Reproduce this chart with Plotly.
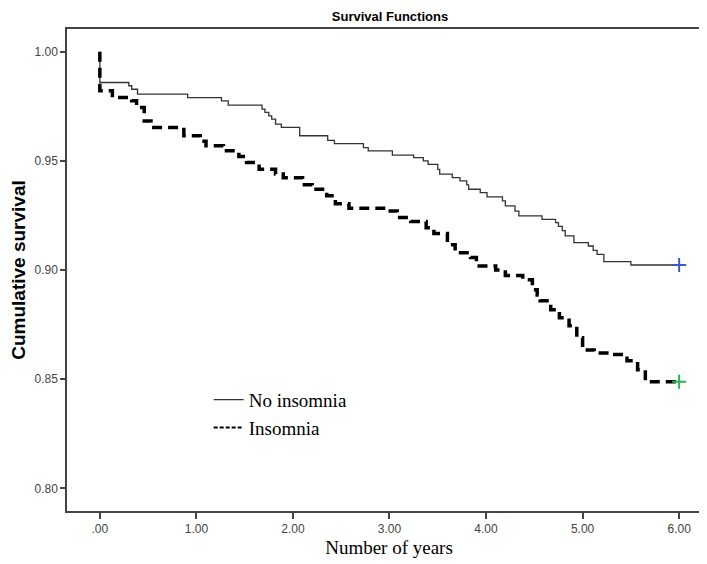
import plotly.graph_objects as go

# ---- data ----
no_insomnia_years = [0.00, 0.00, 0.30, 0.33, 0.39, 0.91, 1.26, 1.33, 1.68, 1.71, 1.75, 1.78,
                     1.82, 1.88, 2.07, 2.36, 2.43, 2.73, 2.78, 3.03, 3.25, 3.35, 3.40, 3.50,
                     3.52, 3.65, 3.73, 3.80, 3.82, 3.94, 4.01, 4.17, 4.20, 4.30, 4.34, 4.58,
                     4.72, 4.75, 4.79, 4.82, 4.91, 5.06, 5.11, 5.15, 5.22, 5.50, 6.00]
no_insomnia_surv = [1.0000, 0.9859, 0.9844, 0.9828, 0.9806, 0.9790, 0.9775, 0.9755, 0.9737,
                    0.9722, 0.9706, 0.9691, 0.9668, 0.9653, 0.9615, 0.9594, 0.9579, 0.9561,
                    0.9546, 0.9526, 0.9515, 0.9500, 0.9484, 0.9461, 0.9439, 0.9423, 0.9408,
                    0.9390, 0.9370, 0.9354, 0.9335, 0.9317, 0.9294, 0.9270, 0.9248, 0.9232,
                    0.9217, 0.9200, 0.9180, 0.9156, 0.9125, 0.9110, 0.9090, 0.9072, 0.9038,
                    0.9023, 0.9023]

insomnia_years = [0.00, 0.00, 0.13, 0.33, 0.38, 0.46, 0.53, 0.87, 1.04, 1.10, 1.28, 1.44,
                  1.52, 1.65, 1.82, 1.90, 2.10, 2.20, 2.35, 2.44, 2.58, 2.98, 3.08, 3.22,
                  3.38, 3.46, 3.60, 3.68, 3.84, 3.90, 4.10, 4.20, 4.38, 4.48, 4.53, 4.56,
                  4.67, 4.76, 4.86, 4.94, 5.00, 5.12, 5.30, 5.46, 5.57, 5.65, 6.00]
insomnia_surv = [1.0000, 0.9821, 0.9790, 0.9775, 0.9744, 0.9683, 0.9653, 0.9615, 0.9590,
                 0.9569, 0.9546, 0.9520, 0.9492, 0.9461, 0.9440, 0.9423, 0.9390, 0.9370,
                 0.9340, 0.9304, 0.9283, 0.9270, 0.9240, 0.9222, 0.9194, 0.9167, 0.9116,
                 0.9079, 0.9057, 0.9018, 0.9000, 0.8975, 0.8955, 0.8910, 0.8886, 0.8859,
                 0.8818, 0.8781, 0.8745, 0.8690, 0.8634, 0.8620, 0.8613, 0.8584, 0.8543,
                 0.8488, 0.8488]

censor_years = [6.00]
no_insomnia_censor = [0.9023]
insomnia_censor = [0.8488]

x_tick_vals = [0, 1, 2, 3, 4, 5, 6]
x_tick_text = [".00", "1.00", "2.00", "3.00", "4.00", "5.00", "6.00"]
y_tick_vals = [0.80, 0.85, 0.90, 0.95, 1.00]
y_tick_text = ["0.80", "0.85", "0.90", "0.95", "1.00"]

fig = go.Figure()
fig.add_trace(go.Scatter(x=no_insomnia_years, y=no_insomnia_surv, mode="lines",
                         line=dict(shape="hv", color="#333333", width=1.3),
                         name="No insomnia", legendgroup="no"))
fig.add_trace(go.Scatter(x=insomnia_years, y=insomnia_surv, mode="lines",
                         line=dict(shape="hv", color="#000000", width=3.5, dash="10px,6px"),
                         name="Insomnia", legendgroup="ins", showlegend=False))
# legend entry for the insomnia curve, drawn with the finer dash seen in the reference key
fig.add_trace(go.Scatter(x=[None], y=[None], mode="lines",
                         line=dict(color="#000000", width=2, dash="4px,2px"),
                         name="Insomnia", legendgroup="ins", hoverinfo="skip"))
fig.add_trace(go.Scatter(x=censor_years, y=no_insomnia_censor, mode="markers",
                         marker=dict(symbol="cross-thin", size=10,
                                     line=dict(color="#3b5cc4", width=2)),
                         legendgroup="no", showlegend=False, hoverinfo="skip"))
fig.add_trace(go.Scatter(x=censor_years, y=insomnia_censor, mode="markers",
                         marker=dict(symbol="cross-thin", size=10,
                                     line=dict(color="#2bb24c", width=2)),
                         legendgroup="ins", showlegend=False, hoverinfo="skip"))

fig.update_layout(
    width=707, height=564,
    margin=dict(l=59, r=2, t=21, b=61),
    paper_bgcolor="white", plot_bgcolor="white",
    title=dict(text="<b>Survival Functions</b>", x=(59 + 705) / 2 / 707, xanchor="center",
               y=1 - 8 / 564, yanchor="middle",
               font=dict(family="Liberation Sans, Arial", size=13, color="#000")),
    showlegend=True,
    legend=dict(x=0.22, y=0.27, xanchor="left", yanchor="top",
                bgcolor="rgba(0,0,0,0)", borderwidth=0,
                font=dict(family="Liberation Serif, Times New Roman", size=19, color="#000"),
                tracegroupgap=0),
    font=dict(family="Liberation Sans, Arial"),
)
fig.update_xaxes(range=[-0.34, 6.33], tickvals=x_tick_vals, ticktext=x_tick_text,
                 showgrid=False, zeroline=False, showline=True, mirror=True,
                 linecolor="#444", linewidth=1.5, ticks="outside", ticklen=6,
                 tickcolor="#444", tickwidth=1.5,
                 tickfont=dict(family="Liberation Sans, Arial", size=12, color="#444"),
                 title=dict(text="Number of years", standoff=6,
                            font=dict(family="Liberation Serif, Times New Roman", size=19,
                                      color="#000")))
fig.update_yaxes(range=[0.7896, 1.0104], tickvals=y_tick_vals, ticktext=y_tick_text,
                 showgrid=False, zeroline=False, showline=True, mirror=True,
                 linecolor="#444", linewidth=1.5, ticks="outside", ticklen=5,
                 tickcolor="#444", tickwidth=1.5,
                 tickfont=dict(family="Liberation Sans, Arial", size=12, color="#444"),
                 title=dict(text="<b>Cumulative survival</b>", standoff=5,
                            font=dict(family="Liberation Sans, Arial", size=19, color="#000")))

fig.write_html("out.html")
